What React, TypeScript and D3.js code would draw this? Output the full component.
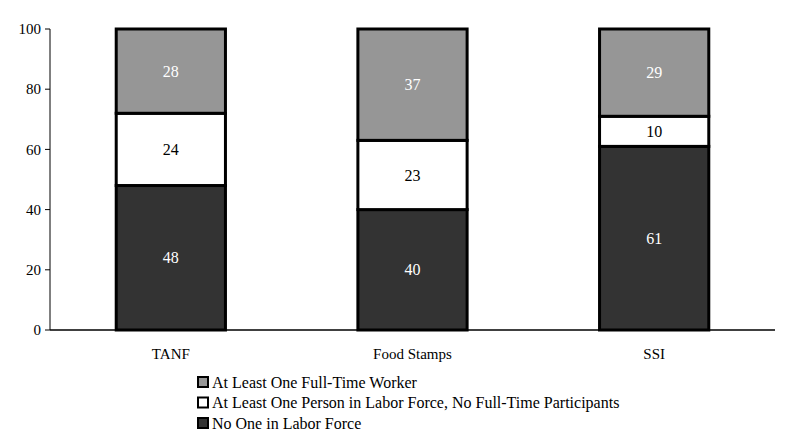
import React from "react";
import * as d3 from "d3";

const categories = ["TANF", "Food Stamps", "SSI"];
const seriesNames = [
  "No One in Labor Force",
  "At Least One Person in Labor Force, No Full-Time Participants",
  "At Least One Full-Time Worker",
];
const noOne = [48, 40, 61];
const partTime = [24, 23, 10];
const fullTime = [28, 37, 29];
const yTicks = [0, 20, 40, 60, 80, 100];
const colors = ["#333333", "#ffffff", "#969696"];
const labelColors = ["#ffffff", "#000000", "#ffffff"];
const legendOrder = [2, 1, 0];

export default function App() {
  const W = 786, H = 441;
  const left = 50, right = 775, top = 29, bottom = 330;
  const x = d3.scaleBand<string>().domain(categories).range([left, right]).paddingInner(0.548).paddingOuter(0.274);
  const y = d3.scaleLinear().domain([0, 100]).range([bottom, top]);
  const data = categories.map((c, i) => ({ cat: c, s0: noOne[i], s1: partTime[i], s2: fullTime[i] }));
  const stack = d3.stack<any>().keys(["s0", "s1", "s2"]);
  const series = stack(data);
  const font = "Liberation Serif";

  return (
    <svg width={W} height={H} style={{ position: "absolute", left: 0, top: 0 }}>
      <rect width={W} height={H} fill="#fff" />
      {series.map((s, si) =>
        s.map((d, ci) => {
          const x0 = x(categories[ci])!;
          const y0 = y(d[0]);
          const y1 = y(d[1]);
          return (
            <g key={si + "-" + ci}>
              <rect x={x0} y={y1} width={x.bandwidth()} height={y0 - y1} fill={colors[si]} stroke="#000" strokeWidth={3} />
              <text x={x0 + x.bandwidth() / 2} y={(y0 + y1) / 2} dy="0.35em" textAnchor="middle" fontSize={16} fill={labelColors[si]} style={{ fontFamily: font }}>
                {d[1] - d[0]}
              </text>
            </g>
          );
        })
      )}
      <line x1={left} x2={left} y1={top} y2={bottom} stroke="#000" strokeWidth={1} />
      <line x1={left} x2={right} y1={bottom} y2={bottom} stroke="#000" strokeWidth={1.5} />
      {yTicks.map((t) => (
        <g key={t}>
          <line x1={left - 5} x2={left} y1={y(t)} y2={y(t)} stroke="#000" />
          <text x={left - 9} y={y(t)} dy="0.35em" textAnchor="end" fontSize={15} fill="#000" style={{ fontFamily: font }}>{t}</text>
        </g>
      ))}
      {categories.map((c) => (
        <text key={c} x={x(c)! + x.bandwidth() / 2} y={354} dy="0.35em" textAnchor="middle" fontSize={15} fill="#000" style={{ fontFamily: font }}>{c}</text>
      ))}
      {legendOrder.map((si, i) => (
        <g key={si} transform={`translate(198, ${382 + i * 20.5})`}>
          <rect x={0} y={-5} width={10} height={10} fill={colors[si]} stroke="#000" strokeWidth={2} />
          <text x={14} y={0} dy="0.35em" fontSize={16} fill="#000" style={{ fontFamily: font }}>{seriesNames[si]}</text>
        </g>
      ))}
    </svg>
  );
}
